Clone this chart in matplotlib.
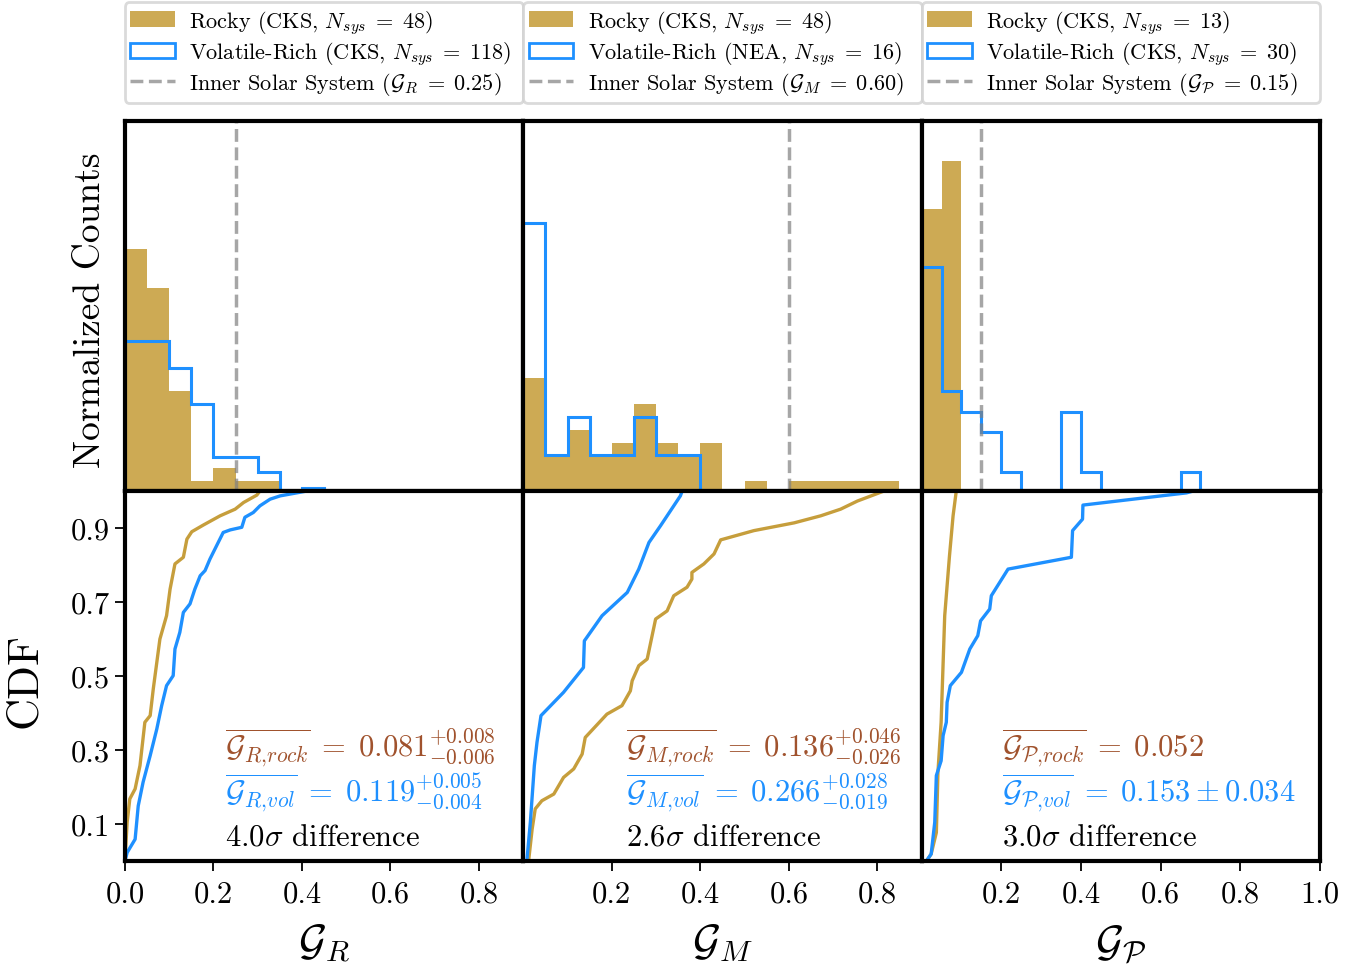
import numpy as np
import matplotlib
matplotlib.use('Agg')
import matplotlib.pyplot as plt
from matplotlib.patches import Patch
from matplotlib.lines import Line2D

plt.rcParams['font.family'] = 'serif'
plt.rcParams['font.serif'] = ['cmr10', 'DejaVu Serif']
plt.rcParams['mathtext.fontset'] = 'cm'
plt.rcParams['axes.formatter.use_mathtext'] = True
plt.rcParams['axes.unicode_minus'] = False

# histogramas normalizados (bins de 0.05 desde 0)
bin_w = 0.05
r_rock = [8.06, 6.78, 3.33, 0.34, 0.76, 0.34, 0.34]
r_vol = [5.0, 5.0, 4.11, 2.89, 1.12, 1.12, 0.64, 0.0, 0.09]
m_rock = [3.78, 1.2, 2.03, 1.2, 1.61, 2.9, 1.61, 1.2, 1.61, 0.0, 0.33, 0.0,
          0.33, 0.33, 0.33, 0.33, 0.33]
m_vol = [8.92, 1.2, 2.48, 1.2, 1.2, 2.48, 1.2, 1.2]
p_rock = [9.4, 10.99]
p_vol = [7.48, 3.34, 2.64, 1.98, 0.62, 0.0, 0.0, 2.64, 0.62, 0.0, 0.0, 0.0, 0.0, 0.62]

# CDFs
r_rock_x = [0.0, 0.005, 0.011, 0.023, 0.034, 0.045, 0.057, 0.064, 0.079, 0.094, 0.102,
            0.113, 0.132, 0.14, 0.151, 0.177, 0.215, 0.249, 0.268, 0.298, 0.305]
r_rock_y = [0.0, 0.105, 0.168, 0.195, 0.258, 0.375, 0.393, 0.465, 0.6, 0.663, 0.735,
            0.803, 0.821, 0.87, 0.89, 0.908, 0.933, 0.951, 0.969, 0.989, 1.0]
r_vol_x = [0.0, 0.005, 0.023, 0.030, 0.041, 0.057, 0.072, 0.083, 0.094, 0.109, 0.113,
           0.124, 0.132, 0.147, 0.158, 0.170, 0.181, 0.192, 0.207, 0.222, 0.238, 0.264,
           0.271, 0.290, 0.305, 0.328, 0.351, 0.388, 0.411]
r_vol_y = [0.0, 0.023, 0.059, 0.149, 0.213, 0.285, 0.357, 0.42, 0.474, 0.501, 0.573,
           0.618, 0.672, 0.695, 0.735, 0.771, 0.785, 0.816, 0.852, 0.888, 0.895, 0.902,
           0.929, 0.942, 0.96, 0.978, 0.987, 0.995, 1.0]
m_rock_x = [0.012, 0.020, 0.027, 0.042, 0.069, 0.091, 0.114, 0.133, 0.140, 0.189, 0.223,
            0.242, 0.246, 0.261, 0.280, 0.299, 0.325, 0.340, 0.370, 0.381, 0.381, 0.408,
            0.431, 0.446, 0.521, 0.612, 0.672, 0.717, 0.755, 0.815]
m_rock_y = [0.0, 0.086, 0.141, 0.163, 0.181, 0.226, 0.249, 0.289, 0.334, 0.397, 0.42,
            0.46, 0.487, 0.528, 0.546, 0.654, 0.676, 0.717, 0.74, 0.762, 0.78, 0.803,
            0.83, 0.868, 0.893, 0.914, 0.933, 0.951, 0.973, 1.0]
m_vol_x = [0.008, 0.016, 0.025, 0.031, 0.040, 0.091, 0.136, 0.138, 0.178, 0.235, 0.261,
           0.284, 0.310, 0.355, 0.359]
m_vol_y = [0.0, 0.105, 0.258, 0.321, 0.393, 0.456, 0.523, 0.595, 0.663, 0.726, 0.789,
           0.861, 0.906, 0.987, 1.0]
p_rock_x = [0.012, 0.024, 0.037, 0.041, 0.049, 0.058, 0.070, 0.079, 0.087]
p_rock_y = [0.0, 0.019, 0.077, 0.24, 0.375, 0.663, 0.825, 0.933, 1.0]
p_vol_x = [0.012, 0.024, 0.033, 0.037, 0.049, 0.054, 0.062, 0.064, 0.072, 0.1, 0.121,
           0.141, 0.148, 0.171, 0.175, 0.217, 0.376, 0.379, 0.404, 0.405, 0.665, 0.682]
p_vol_y = [0.0, 0.019, 0.105, 0.231, 0.271, 0.339, 0.375, 0.429, 0.474, 0.51, 0.573,
           0.609, 0.649, 0.681, 0.717, 0.789, 0.821, 0.893, 0.924, 0.962, 0.995, 1.0]

solar = [0.25, 0.60, 0.15]
xmax = [0.9, 0.9, 1.0]
xticks = [[0.0, 0.2, 0.4, 0.6, 0.8], [0.2, 0.4, 0.6, 0.8], [0.2, 0.4, 0.6, 0.8, 1.0]]
sym = [r'\mathcal{G}_R', r'\mathcal{G}_M', r'\mathcal{G}_\mathcal{P}']
sub = ['R', 'M', r'\mathcal{P}']
n_rock = [48, 48, 13]
n_vol = [118, 16, 30]
src_vol = ['CKS', 'NEA', 'CKS']
txt_rock = [r'0.081^{+0.008}_{-0.006}', r'0.136^{+0.046}_{-0.026}', r'0.052']
txt_vol = [r'0.119^{+0.005}_{-0.004}', r'0.266^{+0.028}_{-0.019}', r'0.153 \pm 0.034']
sigma = ['4.0', '2.6', '3.0']
text_x = [0.25, 0.257, 0.202]

hist_rock = [r_rock, m_rock, p_rock]
hist_vol = [r_vol, m_vol, p_vol]
cdf_rock = [(r_rock_x, r_rock_y), (m_rock_x, m_rock_y), (p_rock_x, p_rock_y)]
cdf_vol = [(r_vol_x, r_vol_y), (m_vol_x, m_vol_y), (p_vol_x, p_vol_y)]

c_rock = 'darkgoldenrod'
c_vol = 'dodgerblue'

fig, axs = plt.subplots(2, 3, figsize=(13.64, 9.70), dpi=100)
fig.subplots_adjust(left=0.0916, right=0.9677, top=0.8742, bottom=0.1113,
                    wspace=0, hspace=0)

for i in range(3):
    ax = axs[0, i]
    hr = hist_rock[i]
    hv = hist_vol[i]
    ax.stairs(hr, np.arange(len(hr) + 1) * bin_w, fill=True, color=c_rock, alpha=0.7, lw=0)
    ax.stairs(hv, np.arange(len(hv) + 1) * bin_w, color=c_vol, lw=2.2)
    ax.axvline(solar[i], color='gray', ls='--', lw=2.5, alpha=0.7)
    ax.set_xlim(0, xmax[i])
    ax.set_ylim(0, 12.33)
    ax.set_xticks([])
    ax.set_yticks([])

    handles = [Patch(facecolor=c_rock, alpha=0.7),
               Patch(facecolor='none', edgecolor=c_vol, lw=2),
               Line2D([0], [0], color='gray', ls='--', lw=2.5, alpha=0.7)]
    labels = [r'Rocky (CKS, $N_{sys}\;=\;%d$)' % n_rock[i],
              r'Volatile-Rich (%s, $N_{sys}\;=\;%d$)' % (src_vol[i], n_vol[i]),
              r'Inner Solar System ($%s\;=\;%.2f$)' % (sym[i], solar[i])]
    leg = ax.legend(handles, labels, loc='lower left', bbox_to_anchor=(0, 1.05, 1, 0.2),
                    mode='expand', fontsize=16, labelspacing=0.14,
                    handlelength=2.0, handletextpad=0.65, borderpad=0.25, borderaxespad=0)
    leg.get_frame().set_edgecolor('0.82')
    leg.get_frame().set_linewidth(2)

    ax2 = axs[1, i]
    ax2.plot(*cdf_rock[i], color=c_rock, alpha=0.8, lw=2.4)
    ax2.plot(*cdf_vol[i], color=c_vol, lw=2.4)
    ax2.set_xlim(0, xmax[i])
    ax2.set_ylim(0, 1)
    ax2.set_xticks(xticks[i])
    ax2.set_xticklabels(['%.1f' % t for t in xticks[i]])
    if i == 0:
        ax2.set_yticks([0.1, 0.3, 0.5, 0.7, 0.9])
        ax2.set_yticklabels(['0.1', '0.3', '0.5', '0.7', '0.9'])
    else:
        ax2.set_yticks([])
    ax2.tick_params(labelsize=22, length=7, width=1.3)
    ax2.tick_params(axis='x', pad=7)
    ax2.set_xlabel(r'$%s$' % sym[i], fontsize=31, labelpad=10)

    ax2.text(text_x[i], 0.284, r'$\overline{\mathcal{G}_{%s{,}rock}}\;=\;%s$' % (sub[i], txt_rock[i]),
             transform=ax2.transAxes, color='sienna', fontsize=22, va='baseline')
    ax2.text(text_x[i], 0.162, r'$\overline{\mathcal{G}_{%s{,}vol}}\;=\;%s$' % (sub[i], txt_vol[i]),
             transform=ax2.transAxes, color=c_vol, fontsize=22, va='baseline')
    ax2.text(text_x[i], 0.046, r'%s$\sigma$ difference' % sigma[i],
             transform=ax2.transAxes, color='black', fontsize=22, va='baseline')

for ax in axs.flat:
    for s in ax.spines.values():
        s.set_linewidth(3)

axs[0, 0].set_ylabel('Normalized Counts', fontsize=27)
axs[0, 0].yaxis.set_label_coords(-0.045, 0.49)
axs[1, 0].set_ylabel('CDF', fontsize=32)
axs[1, 0].yaxis.set_label_coords(-0.2, 0.49)

plt.savefig('out.png', dpi=100)
